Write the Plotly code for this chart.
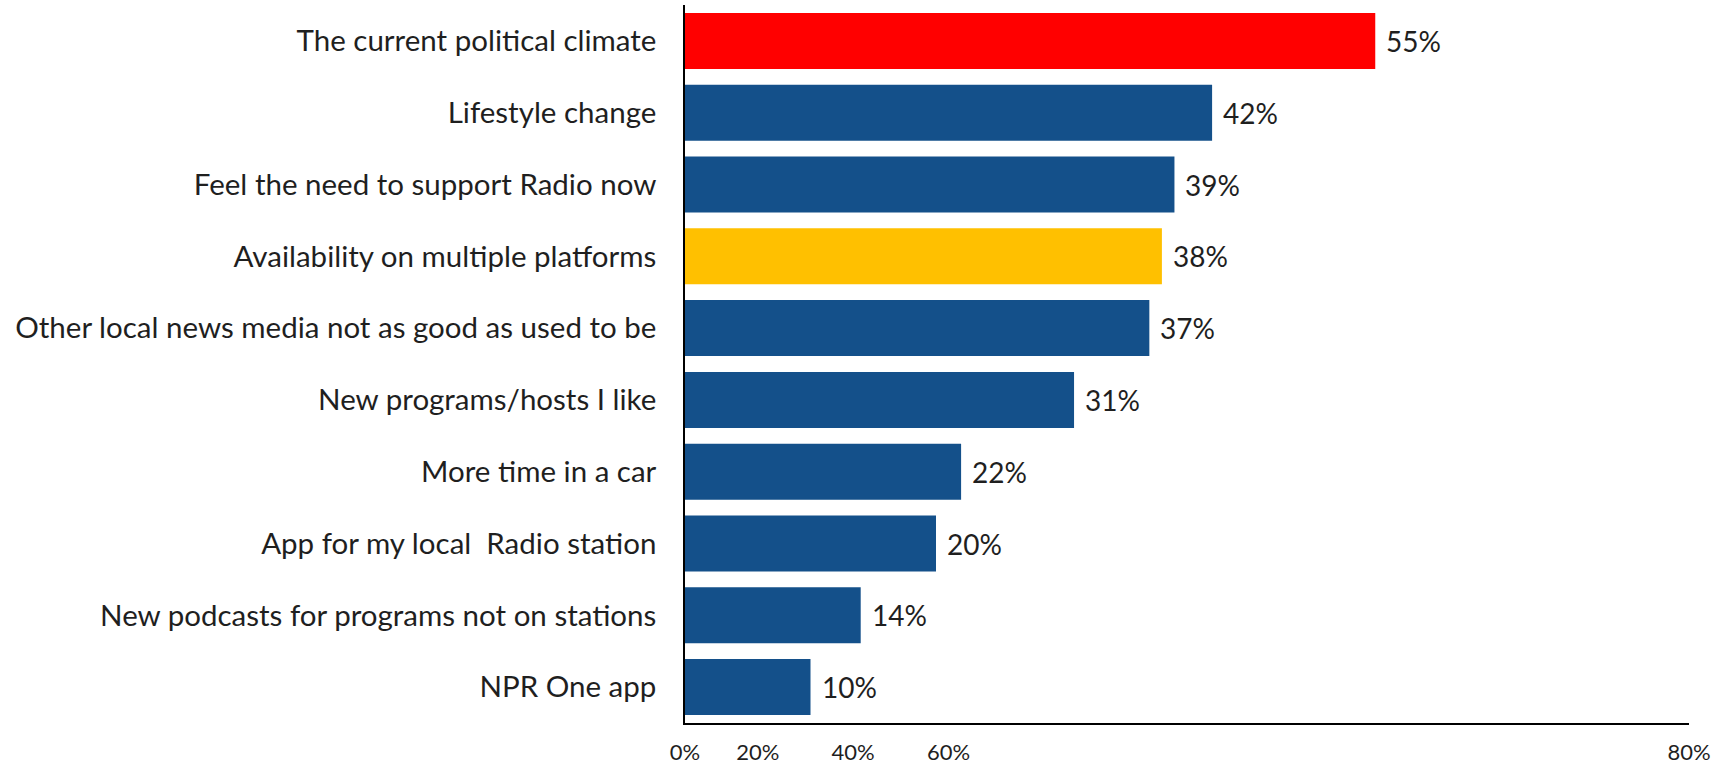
import plotly.graph_objects as go

# Reasons for listening more, share of respondents (%)
categories = [
    "The current political climate",
    "Lifestyle change",
    "Feel the need to support Radio now",
    "Availability on multiple platforms",
    "Other local news media not as good as used to be",
    "New programs/hosts I like",
    "More time in a car",
    "App for my local  Radio station",
    "New podcasts for programs not on stations",
    "NPR One app",
]
values = [55, 42, 39, 38, 37, 31, 22, 20, 14, 10]
bar_colors = ["#FF0000", "#14508A", "#14508A", "#FFC000", "#14508A",
              "#14508A", "#14508A", "#14508A", "#14508A", "#14508A"]

# x-axis tick labels and where they sit on the value scale
tick_text = ["0%", "20%", "40%", "60%", "80%"]
tick_vals = [0, 5.8, 13.4, 21.0, 80]

FONT = "Lato, Calibri, 'Open Sans', sans-serif"
TEXT = "#1F1F1F"

fig = go.Figure(
    go.Bar(
        x=values,
        y=categories,
        orientation="h",
        marker=dict(color=bar_colors, line=dict(width=0)),
        hoverinfo="skip",
    )
)

# value labels just past the end of each bar
for cat, v in zip(categories, values):
    fig.add_annotation(
        x=v, y=cat, text=f"{v}%", showarrow=False,
        xanchor="left", yanchor="middle", xshift=9,
        font=dict(family=FONT, size=28, color=TEXT),
    )

fig.update_layout(
    width=1723,
    height=765,
    margin=dict(l=685, r=34, t=5, b=42),
    paper_bgcolor="white",
    plot_bgcolor="white",
    bargap=0.22,
    showlegend=False,
    font=dict(family=FONT, color=TEXT),
)

fig.update_xaxes(
    range=[0, 80],
    tickvals=tick_vals,
    ticktext=tick_text,
    ticks="",
    showgrid=False,
    zeroline=False,
    showline=True,
    linecolor="#000000",
    linewidth=1.5,
    tickfont=dict(family=FONT, size=22, color=TEXT),
    ticklabelstandoff=9,
    automargin=False,
)

fig.update_yaxes(
    autorange="reversed",
    ticks="",
    showgrid=False,
    zeroline=False,
    showline=True,
    linecolor="#000000",
    linewidth=1.5,
    tickfont=dict(family=FONT, size=29.5, color=TEXT),
    ticklabelstandoff=21,
    automargin=False,
)

fig.write_html("out.html")
